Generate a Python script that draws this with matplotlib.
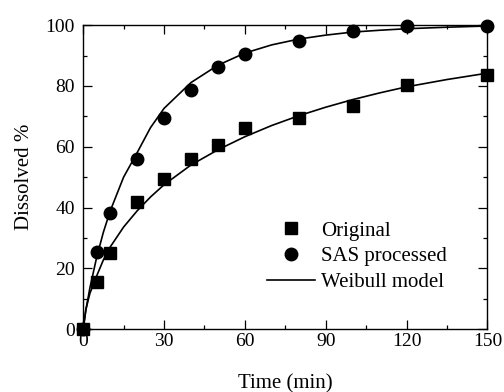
import matplotlib
matplotlib.use("Agg")
import matplotlib.pyplot as plt
from matplotlib.lines import Line2D
from matplotlib.ticker import MultipleLocator

plt.rcParams['font.family'] = ['Liberation Serif', 'DejaVu Serif']

# measured data
time = [0, 5, 10, 20, 30, 40, 50, 60, 80, 100, 120, 150]
original = [0, 15.6, 25.0, 41.8, 49.3, 56.1, 60.5, 66.2, 69.5, 73.5, 80.2, 83.5]
sas = [0, 25.5, 38.2, 55.9, 69.6, 78.5, 86.2, 90.5, 94.8, 97.9, 99.8, 99.8]

# Weibull model curves
t_fit = [0, 1, 2.5, 5, 7.5, 10, 15, 20, 25, 30, 40, 50, 60, 70, 80, 90, 100, 110, 120, 135, 150]
orig_fit = [0, 6.5, 11.8, 17.5, 22.8, 27.0, 33.6, 38.9, 43.5, 47.5, 54.0, 59.0, 63.3,
            67.0, 70.2, 73.0, 75.5, 77.7, 79.7, 82.1, 84.2]
sas_fit = [0, 6.3, 13.6, 23.6, 31.9, 38.8, 50.0, 58.0, 66.3, 72.6, 81.1, 86.8, 90.8,
           93.5, 95.4, 96.7, 97.7, 98.3, 98.8, 99.3, 99.7]

fs_lab = 15
fs_tick = 14
fig = plt.figure(figsize=(5.04, 3.92), dpi=100)
ax = fig.add_axes([0.165, 0.160, 0.802, 0.776])

ax.plot(t_fit, sas_fit, color='black', lw=1.2, zorder=2)
ax.plot(t_fit, orig_fit, color='black', lw=1.2, zorder=2)
ax.plot(time, sas, linestyle='none', marker='o', ms=9.0, color='black', clip_on=False, zorder=3)
ax.plot(time, original, linestyle='none', marker='s', ms=8.4, color='black', clip_on=False, zorder=4)

ax.set_xlim(0, 150)
ax.set_ylim(0, 100)
ax.xaxis.set_major_locator(MultipleLocator(30))
ax.xaxis.set_minor_locator(MultipleLocator(15))
ax.yaxis.set_major_locator(MultipleLocator(20))
ax.yaxis.set_minor_locator(MultipleLocator(10))
ax.tick_params(which='both', direction='in', top=True, right=True, width=0.9,
               labelsize=fs_tick, color='black')
ax.tick_params(which='major', length=6.5)
ax.tick_params(which='minor', length=3.2)
ax.tick_params(axis='x', pad=3)
ax.tick_params(axis='y', pad=6)
for s in ax.spines.values():
    s.set_linewidth(1.0)

ax.set_xlabel('Time (min)', fontsize=fs_lab, labelpad=17)
ax.set_ylabel('Dissolved %', fontsize=fs_lab, labelpad=8)

handles = [
    Line2D([], [], linestyle='none', marker='s', ms=8.0, color='black'),
    Line2D([], [], linestyle='none', marker='o', ms=9.0, color='black'),
    Line2D([], [], color='black', lw=1.2),
]
labels = ['Original', 'SAS processed', 'Weibull model']
ax.legend(handles, labels, loc='lower left', bbox_to_anchor=(0.454, 0.122),
          frameon=False, fontsize=fs_lab, handlelength=2.3, handletextpad=0.3,
          labelspacing=0.3, borderpad=0, borderaxespad=0)

fig.savefig('out.png', dpi=100)
